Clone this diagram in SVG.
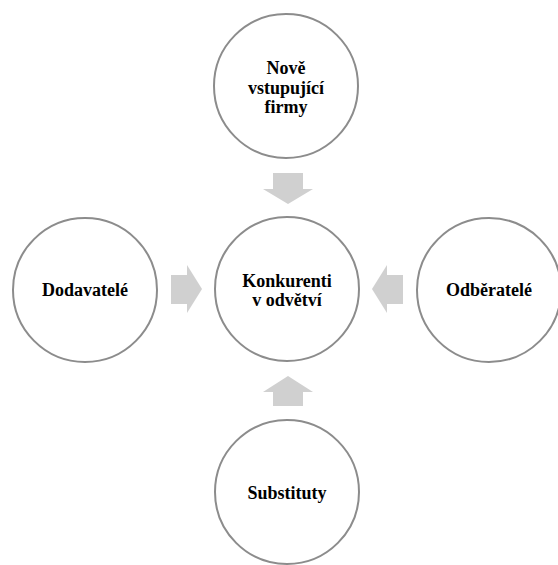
<svg xmlns="http://www.w3.org/2000/svg" width="558" height="565" viewBox="0 0 558 565">
<style>
.node circle{fill:#ffffff;stroke:#8c8c8c;stroke-width:2}
.node text{font-family:"Liberation Serif","Times New Roman",serif;font-weight:bold;font-size:18px;fill:#000;text-anchor:middle}
.arrow{fill:#d0d0d0}
</style>
<rect width="558" height="565" fill="#ffffff"/>
<g id="connectors">
<polygon class="arrow" points="273,173 303,173 303,189 313,189 288,204 263,189 273,189"/>
<polygon class="arrow" points="273,406 303,406 303,392 313,392 288,376 263,392 273,392"/>
<polygon class="arrow" points="171,275 187,275 187,265 202,289 187,313 187,304 171,304"/>
<polygon class="arrow" points="403,275 387,275 387,265 372,289 387,313 387,304 403,304"/>
</g>
<g id="node-nove" class="node">
<circle cx="286" cy="86" r="72"/>
<text x="286" y="74">Nově</text>
<text x="286" y="94">vstupující</text>
<text x="286" y="113">firmy</text>
</g>
<g id="node-konkurenti" class="node">
<circle cx="287" cy="289" r="72"/>
<text x="287" y="287">Konkurenti</text>
<text x="287" y="306">v odvětví</text>
</g>
<g id="node-dodavatele" class="node">
<circle cx="85" cy="290" r="72"/>
<text x="85" y="296">Dodavatelé</text>
</g>
<g id="node-odberatele" class="node">
<circle cx="489" cy="290" r="72"/>
<text x="489" y="296">Odběratelé</text>
</g>
<g id="node-substituty" class="node">
<circle cx="287" cy="492" r="72"/>
<text x="287" y="499">Substituty</text>
</g>
</svg>
